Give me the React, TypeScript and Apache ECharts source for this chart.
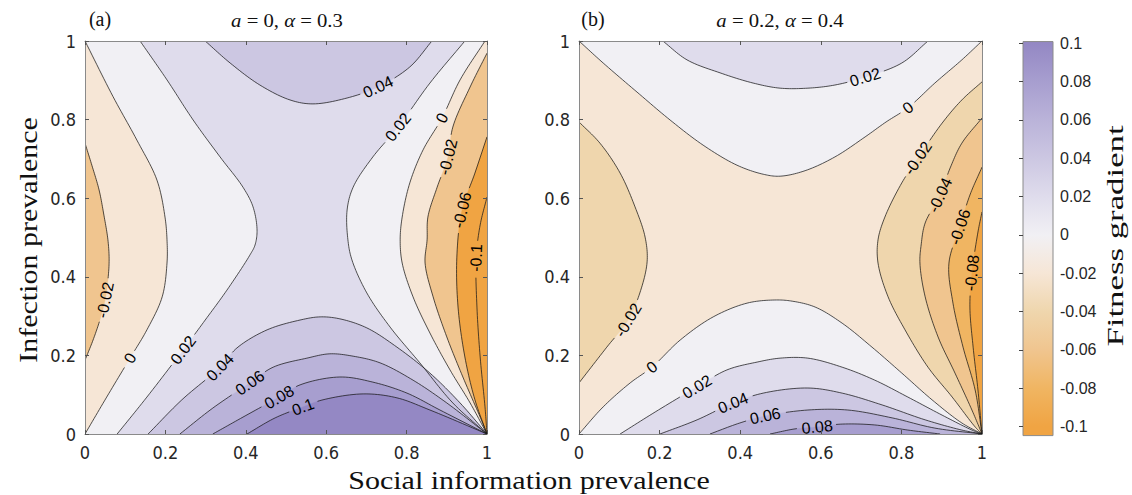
import React, { useEffect, useRef } from "react";
import * as echarts from "echarts";

// ---------------- colour scale ----------------
const cmapLevels = [-0.1, -0.08, -0.06, -0.04, -0.02, 0, 0.02, 0.04, 0.06, 0.08, 0.1];
const cmapColors = ["#f0a443", "#f0b562", "#f0c58f", "#efd6ad", "#f6e6d6", "#f1f0f4", "#dfdcec", "#ccc7e2", "#bab3d9", "#a79ecf", "#9488c4"];
const cbarRange = [-0.1047, 0.1009];

// ---------------- panel (a): a = 0, alpha = 0.3 ----------------
const aNeg002Left = [[0, 0.74], [0.017, 0.684], [0.035, 0.621], [0.047, 0.557], [0.057, 0.494], [0.06, 0.443], [0.057, 0.392], [0.05, 0.341], [0.037, 0.29], [0.02, 0.239], [0, 0.188]];
const aZeroLeft = [[0, 1], [0.07, 0.858], [0.129, 0.748], [0.179, 0.646], [0.199, 0.552], [0.204, 0.494], [0.204, 0.435], [0.192, 0.349], [0.154, 0.265], [0.112, 0.193], [0.054, 0.094], [0, 0]];
const aPos002Left = [[0.137, 1], [0.204, 0.901], [0.269, 0.799], [0.336, 0.705], [0.393, 0.628], [0.418, 0.578], [0.428, 0.519], [0.423, 0.481], [0.41, 0.455], [0.353, 0.366], [0.299, 0.29], [0.244, 0.214], [0.154, 0.094], [0.08, 0]];
const aPos004Top = [[0.299, 1], [0.361, 0.944], [0.435, 0.888], [0.51, 0.85], [0.567, 0.84], [0.652, 0.855], [0.729, 0.883], [0.808, 0.934], [0.863, 1]];
const aPos002Right = [[0.945, 1], [0.858, 0.893], [0.779, 0.781], [0.716, 0.705], [0.667, 0.628], [0.652, 0.57], [0.654, 0.494], [0.664, 0.443], [0.701, 0.359], [0.759, 0.272], [0.833, 0.181], [0.915, 0.079], [1, 0]];
const aZeroRight = [[0.995, 1], [0.933, 0.901], [0.888, 0.804], [0.841, 0.723], [0.808, 0.639], [0.789, 0.552], [0.784, 0.494], [0.789, 0.435], [0.816, 0.349], [0.858, 0.257], [0.908, 0.163], [0.958, 0.079], [1, 0]];
const aNeg002Right = [[1, 0.969], [0.958, 0.883], [0.915, 0.781], [0.903, 0.705], [0.876, 0.628], [0.853, 0.552], [0.851, 0.494], [0.846, 0.435], [0.866, 0.349], [0.9, 0.247], [0.94, 0.145], [0.983, 0.043], [1, 0]];
const aNeg006Right = [[1, 0.756], [0.97, 0.664], [0.938, 0.57], [0.925, 0.45], [0.928, 0.323], [0.945, 0.196], [0.97, 0.087], [1, 0]];
const aNeg01Right = [[1, 0.603], [0.983, 0.532], [0.973, 0.448], [0.975, 0.323], [0.983, 0.196], [0.995, 0.069], [1, 0]];
const aPos004Bottom = [[0.157, 0], [0.241, 0.087], [0.336, 0.17], [0.378, 0.219], [0.453, 0.265], [0.535, 0.29], [0.585, 0.298], [0.634, 0.293], [0.701, 0.27], [0.776, 0.221], [0.858, 0.155], [0.933, 0.079], [1, 0]];
const aPos006Bottom = [[0.236, 0], [0.318, 0.066], [0.41, 0.13], [0.468, 0.17], [0.552, 0.193], [0.609, 0.204], [0.667, 0.198], [0.734, 0.181], [0.816, 0.137], [0.9, 0.079], [1, 0]];
const aPos008Bottom = [[0.318, 0], [0.393, 0.043], [0.483, 0.094], [0.535, 0.125], [0.634, 0.145], [0.716, 0.132], [0.801, 0.104], [0.883, 0.061], [1, 0]];
const aPos01Bottom = [[0.403, 0], [0.473, 0.041], [0.542, 0.069], [0.592, 0.087], [0.692, 0.102], [0.776, 0.092], [0.858, 0.061], [1, 0]];

// ---------------- panel (b): a = 0.2, alpha = 0.4 ----------------
const bNeg002Left = [[0, 0.794], [0.052, 0.74], [0.102, 0.664], [0.139, 0.578], [0.164, 0.501], [0.169, 0.438], [0.151, 0.359], [0.122, 0.29], [0.069, 0.221], [0, 0.13]];
const bZeroTop = [[0, 1], [0.06, 0.944], [0.144, 0.87], [0.226, 0.799], [0.308, 0.735], [0.392, 0.684], [0.457, 0.661], [0.499, 0.656], [0.561, 0.67], [0.635, 0.705], [0.71, 0.756], [0.762, 0.794], [0.816, 0.83], [0.883, 0.893], [0.95, 0.952], [1, 1]];
const bPos002Top = [[0.208, 1], [0.268, 0.952], [0.35, 0.919], [0.432, 0.893], [0.499, 0.88], [0.568, 0.88], [0.635, 0.888], [0.71, 0.908], [0.801, 0.944], [0.866, 1]];
const bNeg002Right = [[1, 0.896], [0.95, 0.85], [0.901, 0.791], [0.841, 0.702], [0.801, 0.639], [0.759, 0.552], [0.742, 0.494], [0.742, 0.435], [0.767, 0.349], [0.809, 0.265], [0.866, 0.17], [0.926, 0.094], [0.983, 0.018], [1, 0]];
const bNeg004Right = [[1, 0.804], [0.95, 0.74], [0.921, 0.677], [0.896, 0.608], [0.859, 0.537], [0.849, 0.481], [0.846, 0.435], [0.859, 0.349], [0.891, 0.247], [0.933, 0.155], [0.975, 0.061], [1, 0]];
const bNeg006Right = [[1, 0.679], [0.97, 0.608], [0.945, 0.527], [0.918, 0.435], [0.928, 0.333], [0.953, 0.221], [0.983, 0.112], [1, 0]];
const bNeg008Right = [[1, 0.565], [0.99, 0.514], [0.975, 0.41], [0.97, 0.323], [0.978, 0.221], [0.99, 0.112], [1, 0]];
const bZeroBottom = [[0, 0], [0.06, 0.069], [0.127, 0.13], [0.181, 0.17], [0.251, 0.239], [0.333, 0.298], [0.417, 0.333], [0.486, 0.341], [0.529, 0.338], [0.586, 0.323], [0.653, 0.282], [0.727, 0.221], [0.801, 0.155], [0.876, 0.087], [0.95, 0.028], [1, 0]];
const bPos002Bottom = [[0.102, 0], [0.189, 0.056], [0.293, 0.12], [0.367, 0.163], [0.442, 0.183], [0.499, 0.193], [0.568, 0.193], [0.653, 0.17], [0.734, 0.137], [0.816, 0.094], [0.901, 0.048], [0.975, 0.01], [1, 0]];
const bPos004Bottom = [[0.201, 0], [0.293, 0.036], [0.382, 0.079], [0.457, 0.104], [0.568, 0.117], [0.653, 0.104], [0.752, 0.074], [0.859, 0.036], [0.95, 0.01], [1, 0]];
const bPos006Bottom = [[0.325, 0], [0.399, 0.028], [0.462, 0.046], [0.568, 0.061], [0.667, 0.061], [0.777, 0.041], [0.883, 0.015], [1, 0]];
const bPos008Bottom = [[0.474, 0], [0.536, 0.013], [0.591, 0.018], [0.648, 0.025], [0.734, 0.023], [0.816, 0.01], [0.896, 0]];

type Contour = { level: number; pts: number[][]; via: number[][]; band: number; label?: number[] };

const panelA: { base: number; contours: Contour[] } = {
  base: 0.02,
  contours: [
    { level: 0.02, pts: aPos002Left, via: [[0, 0], [0, 1]], band: 0, label: [0.244, 0.214] },
    { level: 0, pts: aZeroLeft, via: [], band: -0.02, label: [0.112, 0.193] },
    { level: -0.02, pts: aNeg002Left, via: [], band: -0.06, label: [0.05, 0.341] },
    { level: 0.04, pts: aPos004Top, via: [], band: 0.04, label: [0.729, 0.883] },
    { level: 0.02, pts: aPos002Right, via: [[1, 1]], band: 0, label: [0.779, 0.781] },
    { level: 0, pts: aZeroRight, via: [[1, 1]], band: -0.02, label: [0.888, 0.804] },
    { level: -0.02, pts: aNeg002Right, via: [], band: -0.06, label: [0.903, 0.705] },
    { level: -0.06, pts: aNeg006Right, via: [], band: -0.1, label: [0.938, 0.57] },
    { level: -0.1, pts: aNeg01Right, via: [], band: -0.12, label: [0.973, 0.448] },
    { level: 0.04, pts: aPos004Bottom, via: [], band: 0.04, label: [0.336, 0.17] },
    { level: 0.06, pts: aPos006Bottom, via: [], band: 0.06, label: [0.41, 0.13] },
    { level: 0.08, pts: aPos008Bottom, via: [], band: 0.08, label: [0.483, 0.094] },
    { level: 0.1, pts: aPos01Bottom, via: [], band: 0.1, label: [0.542, 0.069] },
  ],
};

const panelB: { base: number; contours: Contour[] } = {
  base: -0.02,
  contours: [
    { level: 0, pts: bZeroTop, via: [], band: 0, label: [0.816, 0.83] },
    { level: 0.02, pts: bPos002Top, via: [], band: 0.02, label: [0.71, 0.908] },
    { level: -0.02, pts: bNeg002Left, via: [], band: -0.04, label: [0.122, 0.29] },
    { level: -0.02, pts: bNeg002Right, via: [], band: -0.04, label: [0.841, 0.702] },
    { level: -0.04, pts: bNeg004Right, via: [], band: -0.06, label: [0.896, 0.608] },
    { level: -0.06, pts: bNeg006Right, via: [], band: -0.08, label: [0.945, 0.527] },
    { level: -0.08, pts: bNeg008Right, via: [], band: -0.1, label: [0.975, 0.41] },
    { level: 0, pts: bZeroBottom, via: [], band: 0, label: [0.181, 0.17] },
    { level: 0.02, pts: bPos002Bottom, via: [], band: 0.02, label: [0.293, 0.12] },
    { level: 0.04, pts: bPos004Bottom, via: [], band: 0.04, label: [0.382, 0.079] },
    { level: 0.06, pts: bPos006Bottom, via: [], band: 0.06, label: [0.462, 0.046] },
    { level: 0.08, pts: bPos008Bottom, via: [], band: 0.08, label: [0.591, 0.018] },
  ],
};

// ---------------- helpers ----------------
const LABEL_FS = 16;
const SANS = "'Liberation Sans', Arial, Helvetica, sans-serif";
const NARROW = "'Liberation Sans Narrow', 'DejaVu Sans Condensed', 'Liberation Sans', sans-serif";
const SERIF = "'Liberation Serif', 'DejaVu Serif', serif";

function bandColor(b: number): string {
  if (b < cmapLevels[0] - 1e-9) return cmapColors[0];
  let best = 0;
  let bd = Infinity;
  cmapLevels.forEach((l, i) => {
    const d = Math.abs(l - b);
    if (d < bd) { bd = d; best = i; }
  });
  return cmapColors[best];
}

// centripetal Catmull-Rom smoothing in pixel space (rendering only)
function smooth(p: number[][], seg = 12): number[][] {
  const n = p.length;
  if (n < 3) return p.slice();
  const out: number[][] = [];
  const d = (a: number[], b: number[]) => Math.max(1e-4, Math.sqrt(Math.hypot(b[0] - a[0], b[1] - a[1])));
  for (let i = 0; i < n - 1; i++) {
    const P1 = p[i], P2 = p[i + 1];
    const P0 = i > 0 ? p[i - 1] : [2 * P1[0] - P2[0], 2 * P1[1] - P2[1]];
    const P3 = i + 2 < n ? p[i + 2] : [2 * P2[0] - P1[0], 2 * P2[1] - P1[1]];
    const t0 = 0, t1 = t0 + d(P0, P1), t2 = t1 + d(P1, P2), t3 = t2 + d(P2, P3);
    for (let k = 0; k < seg; k++) {
      const t = t1 + ((t2 - t1) * k) / seg;
      const lerp = (A: number[], B: number[], ta: number, tb: number) => [
        ((tb - t) / (tb - ta)) * A[0] + ((t - ta) / (tb - ta)) * B[0],
        ((tb - t) / (tb - ta)) * A[1] + ((t - ta) / (tb - ta)) * B[1],
      ];
      const A1 = lerp(P0, P1, t0, t1);
      const A2 = lerp(P1, P2, t1, t2);
      const A3 = lerp(P2, P3, t2, t3);
      const B1 = lerp(A1, A2, t0, t2);
      const B2 = lerp(A2, A3, t1, t3);
      out.push(lerp(B1, B2, t1, t2));
    }
  }
  out.push(p[n - 1]);
  return out;
}

function textWidth(s: string, fs: number): number {
  let w = 0;
  for (const ch of s) w += ch === "." ? 0.278 : ch === "-" ? 0.333 : 0.556;
  return w * fs;
}

function fillRenderer(panel: { base: number; contours: Contour[] }) {
  return (params: any, api: any) => {
    const idx = api.value(2);
    if (idx < 0) {
      const p0 = api.coord([0, 1]);
      const p1 = api.coord([1, 0]);
      return { type: "rect", shape: { x: p0[0], y: p0[1], width: p1[0] - p0[0], height: p1[1] - p0[1] }, style: { fill: bandColor(panel.base) } };
    }
    const c = panel.contours[idx];
    const dense = smooth(c.pts.map((q) => api.coord(q)));
    const via = c.via.map((q) => api.coord(q));
    const col = bandColor(c.band);
    return { type: "polygon", shape: { points: dense.concat(via) }, style: { fill: col, stroke: col, lineWidth: 0.4 } };
  };
}

function lineRenderer(panel: { base: number; contours: Contour[] }) {
  return (params: any, api: any) => {
    const c = panel.contours[api.value(2)];
    const dense = smooth(c.pts.map((q) => api.coord(q)));
    const keep = dense.map(() => true);
    const children: any[] = [];
    if (c.label) {
      const lp = api.coord(c.label);
      let j = 0, best = Infinity;
      dense.forEach((q, k) => {
        const dd = (q[0] - lp[0]) ** 2 + (q[1] - lp[1]) ** 2;
        if (dd < best) { best = dd; j = k; }
      });
      const txt = String(c.level);
      const h = textWidth(txt, LABEL_FS) / 2 + 3;
      const ctr = dense[j];
      const dist = (q: number[]) => Math.hypot(q[0] - ctr[0], q[1] - ctr[1]);
      let a = j, b = j;
      while (a > 0 && dist(dense[a]) < h) a--;
      while (b < dense.length - 1 && dist(dense[b]) < h) b++;
      for (let k = a + 1; k < b; k++) keep[k] = false;
      let ang = Math.atan2(dense[b][1] - dense[a][1], dense[b][0] - dense[a][0]);
      if (ang > Math.PI / 2) ang -= Math.PI;
      if (ang < -Math.PI / 2) ang += Math.PI;
      children.push({
        type: "text", x: ctr[0], y: ctr[1], rotation: -ang, z2: 10,
        style: { text: txt, fill: "#000", fontSize: LABEL_FS, fontFamily: SANS, align: "center", verticalAlign: "middle" },
      });
    }
    let segPts: number[][] = [];
    const flush = () => {
      if (segPts.length > 1) children.push({ type: "polyline", shape: { points: segPts }, style: { stroke: "#1a1a1a", lineWidth: 0.75, fill: null } });
      segPts = [];
    };
    dense.forEach((q, k) => { if (keep[k]) segPts.push(q); else flush(); });
    flush();
    return { type: "group", children };
  };
}

const AXIS_COLOR = "#8a8a8a";
const tickLabel = { fontSize: 18, color: "#262626", fontFamily: NARROW };

function xAx(grid: number, pos: string, labels: boolean) {
  return {
    type: "value", gridIndex: grid, position: pos, min: 0, max: 1, interval: 0.2, z: 10,
    axisLine: { show: true, onZero: false, lineStyle: { color: AXIS_COLOR, width: 1 } },
    axisTick: { show: true, inside: true, length: 4, lineStyle: { color: "#555" } },
    axisLabel: { show: labels, margin: 9, ...tickLabel },
    splitLine: { show: false },
  };
}
function yAx(grid: number, pos: string, labels: boolean) {
  return {
    type: "value", gridIndex: grid, position: pos, min: 0, max: 1, interval: 0.2, z: 10,
    axisLine: { show: true, onZero: false, lineStyle: { color: AXIS_COLOR, width: 1 } },
    axisTick: { show: true, inside: true, length: 4, lineStyle: { color: "#555" } },
    axisLabel: { show: labels, margin: 9, ...tickLabel },
    splitLine: { show: false },
  };
}

export default function App() {
  const ref = useRef<HTMLDivElement>(null);
  useEffect(() => {
    if (!ref.current) return;
    const chart = echarts.init(ref.current, undefined, { renderer: "svg" });

    const span = cbarRange[1] - cbarRange[0];
    const stops = [{ offset: 0, color: cmapColors[cmapColors.length - 1] }];
    for (let i = cmapLevels.length - 1; i >= 0; i--) {
      stops.push({ offset: (cbarRange[1] - cmapLevels[i]) / span, color: cmapColors[i] });
    }
    stops.push({ offset: 1, color: cmapColors[0] });
    const grad = new echarts.graphic.LinearGradient(0, 0, 0, 1, stops);

    const mkData = (n: number, withBase: boolean) => {
      const arr: any[] = [];
      if (withBase) arr.push({ value: [0.5, 0.5, -1] });
      for (let i = 0; i < n; i++) arr.push({ value: [0.5, 0.5, i] });
      return arr;
    };

    const mathRich = { i: { fontStyle: "italic", fontSize: 18, fontFamily: SERIF } };

    const option: any = {
      animation: false,
      backgroundColor: "#ffffff",
      grid: [
        { left: 85, top: 41, width: 402, height: 393 },
        { left: 579, top: 41, width: 403, height: 393 },
        { left: 1023, top: 43.3, width: 30, height: 383.3 },
      ],
      xAxis: [
        xAx(0, "bottom", true), xAx(0, "top", false),
        xAx(1, "bottom", true), xAx(1, "top", false),
        { type: "value", gridIndex: 2, min: 0, max: 1, show: false },
      ],
      yAxis: [
        yAx(0, "left", true), yAx(0, "right", false),
        yAx(1, "left", true), yAx(1, "right", false),
        {
          type: "value", gridIndex: 2, position: "right", min: -0.1, max: 0.1, interval: 0.02, z: 10,
          axisLine: { show: false },
          axisTick: { show: true, inside: true, length: 4, lineStyle: { color: "#444" } },
          axisLabel: { margin: 7, fontSize: 16, color: "#262626", fontFamily: SANS },
          splitLine: { show: false },
        },
      ],
      series: [
        { type: "custom", name: "fillA", xAxisIndex: 0, yAxisIndex: 0, clip: true, silent: true, z: 1, renderItem: fillRenderer(panelA), data: mkData(panelA.contours.length, true) },
        { type: "custom", name: "linesA", xAxisIndex: 0, yAxisIndex: 0, clip: true, silent: true, z: 3, renderItem: lineRenderer(panelA), data: mkData(panelA.contours.length, false) },
        { type: "custom", name: "fillB", xAxisIndex: 2, yAxisIndex: 2, clip: true, silent: true, z: 1, renderItem: fillRenderer(panelB), data: mkData(panelB.contours.length, true) },
        { type: "custom", name: "linesB", xAxisIndex: 2, yAxisIndex: 2, clip: true, silent: true, z: 3, renderItem: lineRenderer(panelB), data: mkData(panelB.contours.length, false) },
        {
          type: "custom", name: "colorbar", xAxisIndex: 4, yAxisIndex: 4, silent: true, z: 1,
          renderItem: (params: any, api: any) => {
            const p0 = api.coord([0, cbarRange[1]]);
            const p1 = api.coord([1, cbarRange[0]]);
            return { type: "rect", shape: { x: p0[0], y: p0[1], width: p1[0] - p0[0], height: p1[1] - p0[1] }, style: { fill: grad, stroke: "#8a8a8a", lineWidth: 1 } };
          },
          data: [{ value: [0.5, 0] }],
        },
      ],
      graphic: [
        { type: "text", x: 100, y: 19, style: { text: "(a)", fontSize: 20, fontFamily: SERIF, fill: "#111", align: "center", verticalAlign: "middle" } },
        { type: "text", x: 287, y: 21, scaleX: 1.15, style: { text: "{i|a} = 0, {i|α} = 0.3", fontSize: 18, fontFamily: SERIF, fill: "#111", align: "center", verticalAlign: "middle", rich: mathRich } },
        { type: "text", x: 593, y: 19, style: { text: "(b)", fontSize: 20, fontFamily: SERIF, fill: "#111", align: "center", verticalAlign: "middle" } },
        { type: "text", x: 780, y: 21, scaleX: 1.15, style: { text: "{i|a} = 0.2, {i|α} = 0.4", fontSize: 18, fontFamily: SERIF, fill: "#111", align: "center", verticalAlign: "middle", rich: mathRich } },
        { type: "text", x: 529, y: 480, scaleX: 1.2, style: { text: "Social information prevalence", fontSize: 25, fontFamily: SERIF, fill: "#111", align: "center", verticalAlign: "middle" } },
        { type: "text", x: 28, y: 240, rotation: Math.PI / 2, scaleX: 1.2, style: { text: "Infection prevalence", fontSize: 25, fontFamily: SERIF, fill: "#111", align: "center", verticalAlign: "middle" } },
        { type: "text", x: 1115, y: 236, rotation: Math.PI / 2, scaleX: 1.45, style: { text: "Fitness gradient", fontSize: 24, fontFamily: SERIF, fill: "#111", align: "center", verticalAlign: "middle" } },
      ],
    };
    chart.setOption(option);
    return () => chart.dispose();
  }, []);
  return <div ref={ref} style={{ position: "fixed", left: 0, top: 0, width: 1132, height: 495, background: "#fff" }} />;
}
